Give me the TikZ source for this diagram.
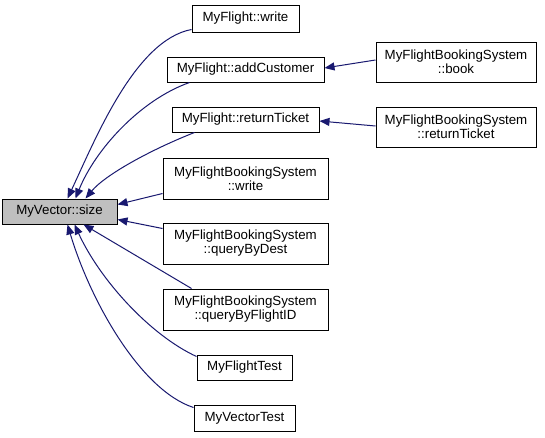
\documentclass[tikz,border=0pt]{standalone}
\usepackage{fontspec}
\setmainfont{Liberation Sans}
\usetikzlibrary{arrows.meta}
\definecolor{edgeblue}{HTML}{191970}
\definecolor{curgray}{HTML}{BFBFBF}
\begin{document}
\begin{tikzpicture}[x=1pt,y=-1pt,
  box/.style={draw=black,line width=1pt,fill=white,inner sep=0pt,align=center,
    font=\fontsize{13.3}{14}\selectfont},
  edge/.style={draw=edgeblue,line width=1pt,-{Triangle[length=10pt,width=8pt]},shorten >=0pt}]
\fill[white] (0,0) rectangle (545,437);
\useasboundingbox (0,0) rectangle (545,437);
\node[box,fill=curgray,minimum width=115pt,minimum height=25pt] (size) at (59.5,211.5) {MyVector::size};
\node[box,minimum width=107pt,minimum height=27pt] (write) at (245.5,18.5) {MyFlight::write};
\node[box,minimum width=157pt,minimum height=25pt] (addc) at (245.5,69.5) {MyFlight::addCustomer};
\node[box,minimum width=147pt,minimum height=25pt] (rett) at (245.5,119.5) {MyFlight::returnTicket};
\node[box,minimum width=160pt,minimum height=40pt] (book) at (456,62) {MyFlightBookingSystem\\::book};
\node[box,minimum width=160pt,minimum height=40pt] (fret) at (456,127) {MyFlightBookingSystem\\::returnTicket};
\node[box,minimum width=165pt,minimum height=41pt] (fwrite) at (245.5,178.5) {MyFlightBookingSystem\\::write};
\node[box,minimum width=165pt,minimum height=41pt] (qdest) at (245.5,243.5) {MyFlightBookingSystem\\::queryByDest};
\node[box,minimum width=165pt,minimum height=41pt] (qfid) at (245.5,309.5) {MyFlightBookingSystem\\::queryByFlightID};
\node[box,minimum width=95pt,minimum height=25pt] (ftest) at (244.5,367.5) {MyFlightTest};
\node[box,minimum width=101pt,minimum height=26pt] (vtest) at (244.5,418) {MyVectorTest};

\draw[edge] ([yshift=3pt]write.south west) .. controls (135,40) and (95,140) .. ([xshift=66pt]size.north west);
\draw[edge] ([xshift=23pt]addc.south west) .. controls (140,100) and (95,150) .. ([xshift=74pt]size.north west);
\draw[edge] ([xshift=23pt]rett.south west) .. controls (150,150) and (105,175) .. ([xshift=84pt]size.north west);
\draw[edge] ([yshift=6pt]fwrite.south west) -- ([yshift=-6pt]size.north east);
\draw[edge] ([yshift=-6pt]qdest.north west) -- ([yshift=5pt]size.south east);
\draw[edge] ([xshift=29pt]qfid.north west) -- ([xshift=82pt]size.south west);
\draw[edge] ([yshift=-2pt]ftest.north west) .. controls (150,335) and (100,280) .. ([xshift=73pt]size.south west);
\draw[edge] ([yshift=-3pt]vtest.north west) .. controls (140,390) and (90,300) .. ([xshift=66pt]size.south west);
\draw[edge] ([yshift=2pt]book.west) -- ([yshift=1.5pt]addc.east);
\draw[edge] ([yshift=1pt]fret.west) -- ([yshift=-1.5pt]rett.east);
\end{tikzpicture}
\end{document}
